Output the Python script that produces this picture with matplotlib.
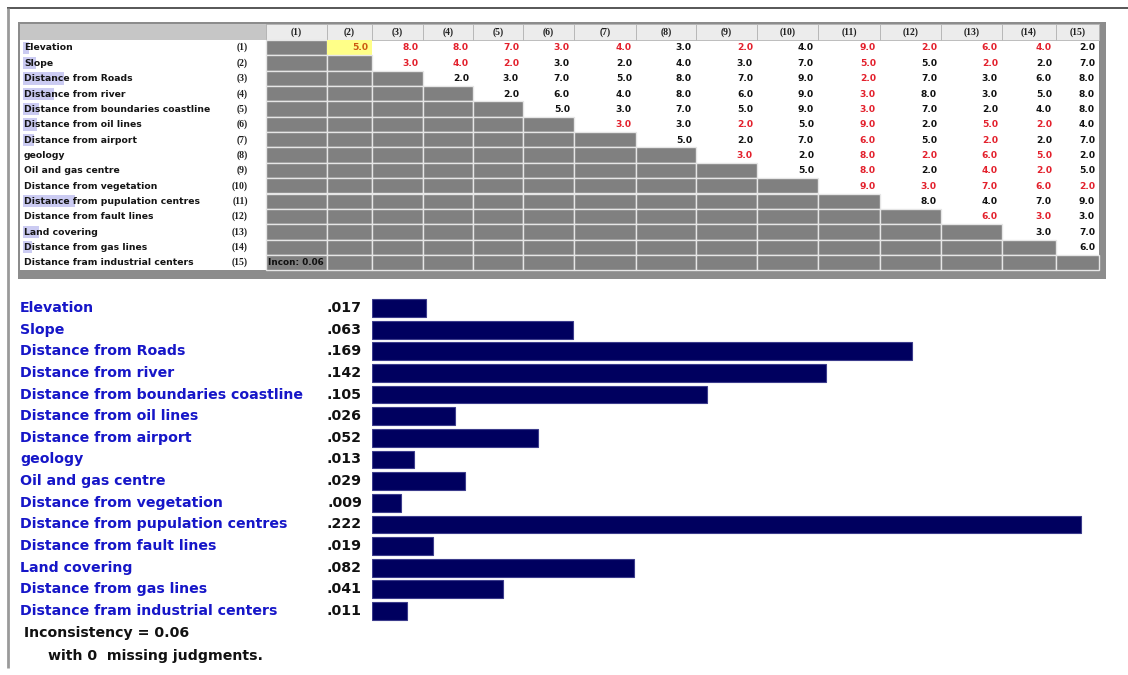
import matplotlib
matplotlib.use("Agg")
import matplotlib.pyplot as plt
from matplotlib.patches import Rectangle
from matplotlib.transforms import blended_transform_factory

# ---------------- data ----------------
criteria = ["Elevation", "Slope", "Distance from Roads", "Distance from river",
            "Distance from boundaries coastline", "Distance from oil lines",
            "Distance from airport", "geology", "Oil and gas centre",
            "Distance from vegetation", "Distance from pupulation centres",
            "Distance from fault lines", "Land covering", "Distance from gas lines",
            "Distance fram industrial centers"]

weights = [0.017, 0.063, 0.169, 0.142, 0.105, 0.026, 0.052, 0.013, 0.029,
           0.009, 0.222, 0.019, 0.082, 0.041, 0.011]

col_labels = ["(%d)" % (k + 1) for k in range(15)]

# upper-triangle pairwise judgments, row i holds columns i+1..15
judgments = [
    [5, 8, 8, 7, 3, 4, 3, 2, 4, 9, 2, 6, 4, 2],
    [3, 4, 2, 3, 2, 4, 3, 7, 5, 5, 2, 2, 7],
    [2, 3, 7, 5, 8, 7, 9, 2, 7, 3, 6, 8],
    [2, 6, 4, 8, 6, 9, 3, 8, 3, 5, 8],
    [5, 3, 7, 5, 9, 3, 7, 2, 4, 8],
    [3, 3, 2, 5, 9, 2, 5, 2, 4],
    [5, 2, 7, 6, 5, 2, 2, 7],
    [3, 2, 8, 2, 6, 5, 2],
    [5, 8, 2, 4, 2, 5],
    [9, 3, 7, 6, 2],
    [8, 4, 7, 9],
    [6, 3, 3],
    [3, 7],
    [6],
]
# 1 = inverse judgment (shown in red)
inverted = [
    [1, 1, 1, 1, 1, 1, 0, 1, 0, 1, 1, 1, 1, 0],
    [1, 1, 1, 0, 0, 0, 0, 0, 1, 0, 1, 0, 0],
    [0, 0, 0, 0, 0, 0, 0, 1, 0, 0, 0, 0],
    [0, 0, 0, 0, 0, 0, 1, 0, 0, 0, 0],
    [0, 0, 0, 0, 0, 1, 0, 0, 0, 0],
    [1, 0, 1, 0, 1, 0, 1, 1, 0],
    [0, 0, 0, 1, 0, 1, 0, 0],
    [1, 0, 1, 1, 1, 1, 0],
    [0, 1, 0, 1, 1, 0],
    [1, 1, 1, 1, 1],
    [0, 0, 0, 0],
    [1, 1, 0],
    [0, 0],
    [0],
]
inconsistency = 0.06
missing = 0

# ---------------- layout / style ----------------
W, H = 1128, 675
col_edges = [266, 327, 372, 423, 473, 523, 574, 636, 696, 757, 818, 880, 941, 1002, 1056, 1099]
row_top0, row_h = 40.0, 15.35
head_top = 23.5
hl_ends = [29, 36, 64, 54, 39, 37, 34, 0, 0, 0, 75, 0, 39, 32, 0]  # label highlight extents

CELL_GRAY = "#808080"
RED = "#e3202c"
BLUE = "#1616c8"
NAVY = "#00005f"
TFONT = "DejaVu Sans"
BFONT = "DejaVu Sans"
BSIZE = 10.15

fig = plt.figure(figsize=(W / 100, H / 100), dpi=100)
fig.patch.set_facecolor("white")
ax0 = fig.add_axes([0, 0, 1, 1])
ax0.set_xlim(0, W)
ax0.set_ylim(H, 0)
ax0.axis("off")

# outer window frame
ax0.plot([7, W], [7.5, 7.5], color="#3a3a3a", lw=1.2, solid_capstyle="butt")
ax0.plot([7.5, 7.5], [7.5, 668], color="#9a9a9a", lw=2.0, solid_capstyle="butt")

n = len(criteria)
tab_bottom = row_top0 + n * row_h
# table frame
ax0.add_patch(Rectangle((18, head_top - 1.5), 1106 - 18, tab_bottom + 9 - head_top + 1.5,
                        facecolor="#8c8c8c", edgecolor="none", zorder=0))
ax0.add_patch(Rectangle((20, row_top0), col_edges[-1] - 20, n * row_h,
                        facecolor="white", edgecolor="none", zorder=1))
# header over label column
ax0.add_patch(Rectangle((20, head_top), col_edges[0] - 20, row_top0 - head_top,
                        facecolor="#c6c6c6", edgecolor="none", zorder=1))
# column headers
for j in range(n):
    x0, x1 = col_edges[j], col_edges[j + 1]
    ax0.add_patch(Rectangle((x0, head_top), x1 - x0, row_top0 - head_top,
                            facecolor="#ececec", edgecolor="#b4b4b4", lw=0.6, zorder=1))
    ax0.text((x0 + x1) / 2, head_top + (row_top0 - head_top) / 2 + 0.5, col_labels[j],
             ha="center", va="center", fontsize=7, fontweight="bold",
             family="Liberation Serif", color="#202020", zorder=3)

# rows
for i in range(n):
    yt = row_top0 + i * row_h
    yc = yt + row_h / 2
    if hl_ends[i]:
        ax0.add_patch(Rectangle((23, yt + 1.5), hl_ends[i] - 23, row_h - 3,
                                facecolor="#cbcbf2", edgecolor="none", zorder=2))
    ax0.text(24, yc + 0.3, criteria[i], ha="left", va="center", fontsize=6.7,
             fontweight="bold", family=TFONT, color="#151515", zorder=3)
    ax0.text(248, yc, col_labels[i], ha="right", va="center", fontsize=7,
             fontweight="bold", family="Liberation Serif", color="#202020", zorder=3)
    for j in range(n):
        x0, x1 = col_edges[j], col_edges[j + 1]
        if j <= i:
            ax0.add_patch(Rectangle((x0, yt), x1 - x0, row_h, facecolor=CELL_GRAY,
                                    edgecolor="#e6e6e6", lw=1.0, zorder=2))
        else:
            k = j - i - 1
            if i == 0 and j == 1:
                ax0.add_patch(Rectangle((x0, yt), x1 - x0, row_h, facecolor="#ffff88",
                                        edgecolor="none", zorder=2))
            val = judgments[i][k]
            red = inverted[i][k]
            col = "#cc5a10" if (i == 0 and j == 1) else (RED if red else "#111111")
            ax0.text(x1 - 4, yc + 0.3, "%.1f" % val, ha="right", va="center",
                     fontsize=6.6, fontweight="bold", family=TFONT, color=col, zorder=3)

ax0.text(col_edges[0] + 2, row_top0 + (n - 0.5) * row_h + 0.3,
         "Incon: %.2f" % inconsistency, ha="left", va="center", fontsize=6.4,
         fontweight="bold", family=TFONT, color="#101010", zorder=3)

# ---------------- bar chart ----------------
px_per_unit = (1081 - 372) / 0.222
bx0, bx1 = 372, 1100
yc0, step = 308.0, 21.64
by_top = yc0 - step / 2
by_bot = yc0 + (n - 0.5) * step
ax = fig.add_axes([bx0 / W, 1 - by_bot / H, (bx1 - bx0) / W, (by_bot - by_top) / H])
ax.set_xlim(0, (bx1 - bx0) / px_per_unit)
ax.set_ylim(n - 0.5, -0.5)
ax.axis("off")
ax.barh(range(n), weights, height=0.82, color=NAVY, edgecolor="#3c3c8c", linewidth=0.8)

tr = blended_transform_factory(ax0.transData, ax.transData)
for i in range(n):
    ax.text(20, i, criteria[i], transform=tr, ha="left", va="center", fontsize=BSIZE,
            fontweight="bold", family=BFONT, color=BLUE, clip_on=False)
    ax.text(362, i, ("%.3f" % weights[i])[1:], transform=tr, ha="right", va="center",
            fontsize=BSIZE, fontweight="bold", family=BFONT, color="#111111", clip_on=False)

ax0.text(24, 633, "Inconsistency = %.2f" % inconsistency, ha="left", va="center",
         fontsize=BSIZE, fontweight="bold", family=BFONT, color="#111111")
ax0.text(48, 656, "with %d  missing judgments." % missing, ha="left", va="center",
         fontsize=BSIZE, fontweight="bold", family=BFONT, color="#111111")

fig.savefig("out.png", dpi=100, facecolor="white")
